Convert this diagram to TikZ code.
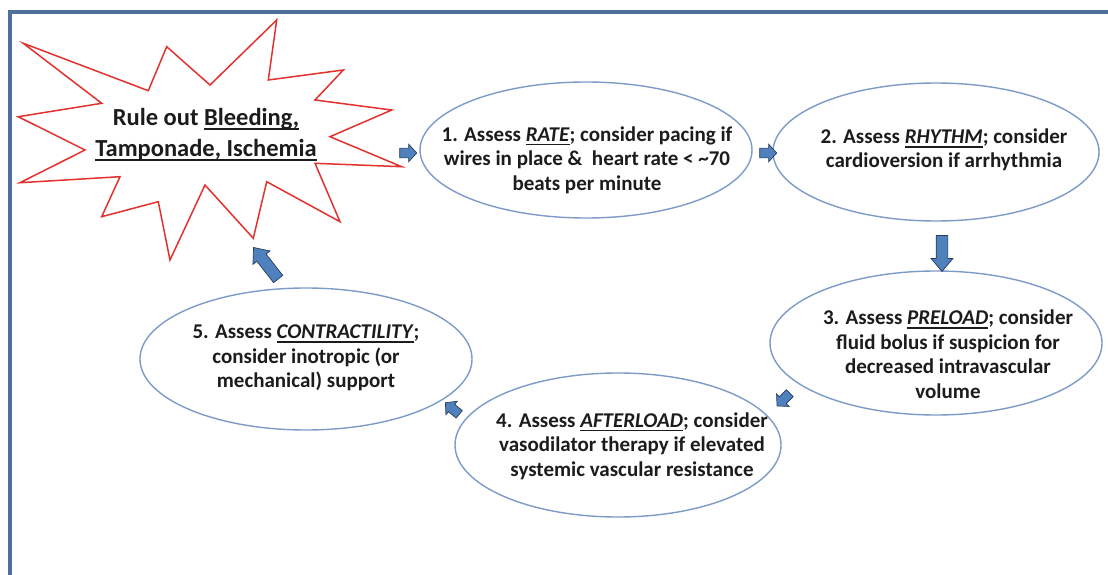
\documentclass[tikz,border=0pt]{standalone}
\usepackage{fontspec}
\setmainfont{Carlito}
\usetikzlibrary{shapes.geometric,shapes.arrows}

\definecolor{framec}{RGB}{79,112,156}
\definecolor{ringc}{RGB}{125,155,200}
\definecolor{burstc}{RGB}{225,50,45}
\definecolor{arrowfill}{RGB}{79,129,189}
\definecolor{arrowline}{RGB}{40,60,90}
\definecolor{txt}{RGB}{28,28,28}

% thick underline drawn below a word group
\newcommand\undl[1]{\setbox0=\hbox{#1}\leavevmode\rlap{\rule[-4.2pt]{\wd0}{1.7pt}}\box0}

\begin{document}
\begin{tikzpicture}[x=1pt,y=-1pt,
  stepring/.style={ellipse, draw=ringc, line width=1.4pt, inner sep=0pt},
  steptext/.style={align=center, font=\bfseries\fontsize{21}{24.5}\selectfont, text=txt, inner sep=0pt},
  bursttext/.style={align=center, font=\bfseries\fontsize{24.5}{31}\selectfont, text=txt, inner sep=0pt},
  barrow/.style={single arrow, fill=arrowfill, draw=arrowline, line width=0.7pt,
    inner xsep=0pt, single arrow head indent=0pt, minimum width=1pt},
  smallarrow/.style={barrow, minimum height=17pt, inner ysep=4.5pt,
    single arrow head extend=4pt, single arrow tip angle=95},
  tinyarrow/.style={barrow, minimum height=18pt, inner ysep=4.5pt,
    single arrow head extend=4pt, single arrow tip angle=95},
  bigarrow/.style={barrow, minimum height=36pt, inner ysep=5.5pt,
    single arrow head extend=5pt, single arrow tip angle=80}
]
\useasboundingbox (0,0) rectangle (1108,575);
\fill[white] (0,0) rectangle (1108,575);

% frame
\draw[framec, line width=4pt] (10,575) -- (10,12) -- (1108,12);

% starburst
\draw[burstc, line width=1.5pt, line join=miter, fill=white]
  (23.3,43.3) -- (148.3,90.7) -- (166.7,46.7) -- (210,85) -- (276.7,20)
  -- (268.3,80) -- (343.3,70) -- (315,100) -- (391.7,110) -- (330,136.7)
  -- (401.7,166.7) -- (315,163.3) -- (340,221.7) -- (266.7,181.7)
  -- (253.3,238.3) -- (205,185) -- (170,260) -- (158.3,201.7)
  -- (101.7,216.7) -- (120,176.7) -- (20,182.7) -- (85,150)
  -- (18.3,116.7) -- (101.7,103.3) -- cycle;
\node[bursttext] (burst) at (206,135)
  {Rule out \undl{Bleeding,}\\\undl{Tamponade, Ischemia}};

% step ellipses
\node[stepring, minimum width=332pt, minimum height=136pt] (e1) at (586,150) {};
\node[stepring, minimum width=326pt, minimum height=138pt] (e2) at (936,152) {};
\node[stepring, minimum width=332pt, minimum height=144pt] (e3) at (936,343) {};
\node[stepring, minimum width=326pt, minimum height=144pt] (e4) at (618,445) {};
\node[stepring, minimum width=332pt, minimum height=142pt] (e5) at (306,359) {};

\node[steptext] (t1) at (587,160)
  {1. Assess \undl{\textit{RATE}}; consider pacing if\\
   wires in place \&\ \ heart rate < \textasciitilde70\\
   beats per minute};
\node[steptext] (t2) at (944,150)
  {2. Assess \undl{\textit{RHYTHM}}; consider\\
   cardioversion if arrhythmia};
\node[steptext] (t3) at (948,354)
  {3. Assess \undl{\textit{PRELOAD}}; consider\\
   fluid bolus if suspicion for\\
   decreased intravascular\\
   volume};
\node[steptext] (t4) at (632,446)
  {4. Assess \undl{\textit{AFTERLOAD}}; consider\\
   vasodilator therapy if elevated\\
   systemic vascular resistance};
\node[steptext] (t5) at (306,358)
  {5. Assess \undl{\textit{CONTRACTILITY}};\\
   consider inotropic (or\\
   mechanical) support};

% block arrows between steps
\node[smallarrow] (a1) at (406,153) {};
\node[smallarrow] (a2) at (766,153) {};
\node[bigarrow, rotate=-90] (a3) at (942,250) {};
\node[tinyarrow, rotate=-135] (a4) at (785,398) {};
\node[tinyarrow, rotate=140] (a5) at (454,410) {};
\node[bigarrow, rotate=128, minimum height=40pt] (a6) at (268,266) {};
\end{tikzpicture}
\end{document}
